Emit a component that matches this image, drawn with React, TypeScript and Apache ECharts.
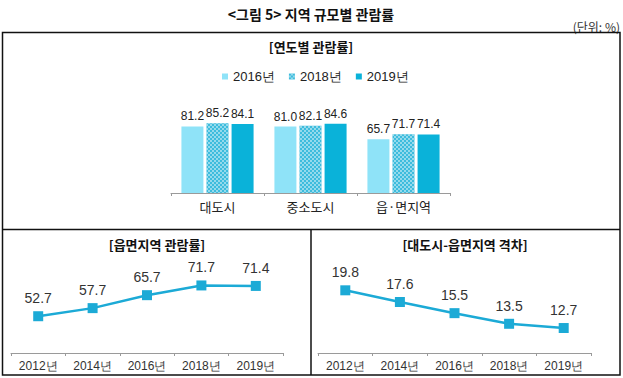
import React, { useEffect, useRef } from "react";
import * as echarts from "echarts";

const regions = ["대도시", "중소도시", "읍·면지역"];
const legendYears = ["2016년", "2018년", "2019년"];
const rate2016 = [81.2, 81.0, 65.7];
const rate2018 = [85.2, 82.1, 71.7];
const rate2019 = [84.1, 84.6, 71.4];

const lineYears = ["2012년", "2014년", "2016년", "2018년", "2019년"];
const eupRate = [52.7, 57.7, 65.7, 71.7, 71.4];
const gapRate = [19.8, 17.6, 15.5, 13.5, 12.7];

const KR = "'Noto Sans CJK KR', 'Noto Sans', sans-serif";
const NUM = "'Liberation Sans', Arial, sans-serif";
const LINE_COLOR = "#1CAAD6";

export default function App() {
  const ref = useRef<HTMLDivElement>(null);
  useEffect(() => {
    if (!ref.current) return;
    const chart = echarts.init(ref.current, undefined, { renderer: "svg" });
    const barLabel = {
      show: true,
      position: "top" as const,
      distance: 4,
      fontFamily: NUM,
      fontSize: 12,
      color: "#222",
      formatter: (p: any) => Number(p.value).toFixed(1),
    };
    const lineLabel = {
      show: true,
      position: "top" as const,
      distance: 6,
      fontFamily: NUM,
      fontSize: 14,
      color: "#333",
      formatter: (p: any) => Number(p.value).toFixed(1),
    };
    const catAxisCommon = {
      type: "category" as const,
      axisLine: { lineStyle: { color: "#9a9a9a", width: 1 } },
      axisTick: { show: true, length: 3, lineStyle: { color: "#9a9a9a" } },
    };
    chart.setOption({
      animation: false,
      backgroundColor: "#fff",
      grid: [
        { left: 171, top: 111, width: 279, height: 82 },
        { left: 11, top: 272, width: 272, height: 81 },
        { left: 318, top: 268, width: 273, height: 85 },
      ],
      legend: {
        data: legendYears,
        left: 222,
        top: 70,
        icon: "rect",
        itemWidth: 6,
        itemHeight: 6,
        itemGap: 14,
        padding: 0,
        textStyle: { fontFamily: NUM, fontSize: 13, color: "#222" },
      },
      xAxis: [
        {
          ...catAxisCommon,
          gridIndex: 0,
          data: regions,
          axisLabel: { fontFamily: KR, fontSize: 13, color: "#222", margin: 7 },
        },
        {
          ...catAxisCommon,
          gridIndex: 1,
          data: lineYears,
          axisLabel: { fontFamily: NUM, fontSize: 12, color: "#333", margin: 7 },
        },
        {
          ...catAxisCommon,
          gridIndex: 2,
          data: lineYears,
          axisLabel: { fontFamily: NUM, fontSize: 12, color: "#333", margin: 7 },
        },
      ],
      yAxis: [
        { type: "value", gridIndex: 0, min: 0, max: 100, show: false },
        { type: "value", gridIndex: 1, min: 30, max: 80, show: false },
        { type: "value", gridIndex: 2, min: 8, max: 24, show: false },
      ],
      series: [
        {
          name: legendYears[0],
          type: "bar",
          xAxisIndex: 0,
          yAxisIndex: 0,
          data: rate2016,
          barWidth: 22,
          barGap: "14%",
          itemStyle: { color: "#8FE3F8" },
          label: barLabel,
        },
        {
          name: legendYears[1],
          type: "bar",
          xAxisIndex: 0,
          yAxisIndex: 0,
          data: rate2018,
          barWidth: 22,
          barGap: "14%",
          itemStyle: {
            color: "#3DBCDD",
            decal: {
              symbol: "rect",
              symbolSize: 1,
              color: "rgba(255,255,255,0.45)",
              dashArrayX: [[2, 2], [0, 2, 2, 0]],
              dashArrayY: [2, 0],
            },
          },
          label: barLabel,
        },
        {
          name: legendYears[2],
          type: "bar",
          xAxisIndex: 0,
          yAxisIndex: 0,
          data: rate2019,
          barWidth: 22,
          barGap: "14%",
          itemStyle: { color: "#0AB2D9" },
          label: barLabel,
        },
        {
          type: "line",
          xAxisIndex: 1,
          yAxisIndex: 1,
          data: eupRate,
          symbol: "rect",
          symbolSize: 10,
          lineStyle: { color: LINE_COLOR, width: 2.5 },
          itemStyle: { color: LINE_COLOR },
          label: lineLabel,
        },
        {
          type: "line",
          xAxisIndex: 2,
          yAxisIndex: 2,
          data: gapRate,
          symbol: "rect",
          symbolSize: 10,
          lineStyle: { color: LINE_COLOR, width: 2.5 },
          itemStyle: { color: LINE_COLOR },
          label: lineLabel,
        },
      ],
      graphic: [
        {
          type: "text",
          x: 311,
          y: 14,
          style: {
            text: "<그림 5> 지역 규모별 관람률",
            fontFamily: KR,
            fontSize: 14,
            fontWeight: "bold",
            fill: "#111",
            align: "center",
            verticalAlign: "middle",
          },
        },
        {
          type: "text",
          x: 620,
          y: 26,
          style: {
            text: "(단위: %)",
            fontFamily: KR,
            fontSize: 12,
            fill: "#333",
            align: "right",
            verticalAlign: "middle",
          },
        },
        {
          type: "rect",
          shape: { x: 2.5, y: 32.5, width: 617.5, height: 342.5 },
          style: { fill: "none", stroke: "#111", lineWidth: 1.5 },
        },
        {
          type: "line",
          shape: { x1: 2.5, y1: 229.5, x2: 620, y2: 229.5 },
          style: { stroke: "#111", lineWidth: 1.5 },
        },
        {
          type: "line",
          shape: { x1: 311, y1: 229.5, x2: 311, y2: 375 },
          style: { stroke: "#111", lineWidth: 1.5 },
        },
        {
          type: "text",
          x: 311,
          y: 46,
          style: {
            text: "[연도별 관람률]",
            fontFamily: KR,
            fontSize: 13,
            fontWeight: "bold",
            fill: "#111",
            align: "center",
            verticalAlign: "middle",
          },
        },
        {
          type: "text",
          x: 157,
          y: 244,
          style: {
            text: "[읍면지역 관람률]",
            fontFamily: KR,
            fontSize: 13,
            fontWeight: "bold",
            fill: "#111",
            align: "center",
            verticalAlign: "middle",
          },
        },
        {
          type: "text",
          x: 465,
          y: 244,
          style: {
            text: "[대도시-읍면지역 격차]",
            fontFamily: KR,
            fontSize: 13,
            fontWeight: "bold",
            fill: "#111",
            align: "center",
            verticalAlign: "middle",
          },
        },
      ],
    });
    return () => chart.dispose();
  }, []);
  return (
    <div
      ref={ref}
      style={{ position: "fixed", left: 0, top: 0, width: 623, height: 378, background: "#fff" }}
    />
  );
}
